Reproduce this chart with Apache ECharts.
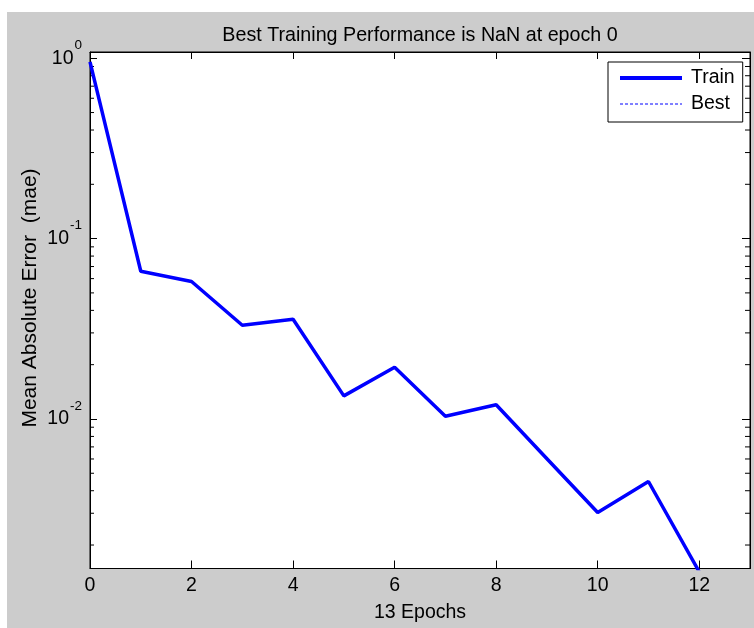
<!DOCTYPE html>
<html><head><meta charset="utf-8">
<script src="https://cdn.jsdelivr.net/npm/echarts@6/dist/echarts.min.js"></script>
<style>
html,body{margin:0;padding:0;background:#fff;}
#wrap{position:relative;width:754px;height:628px;}
#bg{position:absolute;left:7px;top:12px;width:747px;height:616px;background:#cccccc;}
#c{position:absolute;left:0;top:0;width:754px;height:628px;}
</style>
</head><body><div id="wrap"><div id="bg"></div><div id="c"></div></div>
<script>
// ---- data ----
const epochs = [0, 1, 2, 3, 4, 5, 6, 7, 8, 9, 10, 11, 12];
const trainMAE = [0.955, 0.0659, 0.0578, 0.0331, 0.0357, 0.01343, 0.01935, 0.01035, 0.0120, 0.00602, 0.00303, 0.00450, 0.00142];
const bestEpochs = [0];
const bestMAE = [NaN];
const xTickLabels = [0, 2, 4, 6, 8, 10, 12];
const yMajorExponents = [0, -1, -2];
const yMinorTicks = [0.002, 0.003, 0.004, 0.005, 0.006, 0.007, 0.008, 0.009,
                     0.02, 0.03, 0.04, 0.05, 0.06, 0.07, 0.08, 0.09,
                     0.2, 0.3, 0.4, 0.5, 0.6, 0.7, 0.8, 0.9];
const xMin = 0, xMax = 13, xInterval = 2;
const yMin = 0.001482, yMax = 1.083;
const titleText = 'Best Training Performance is NaN at epoch 0';
const xName = '13 Epochs';
const yName = 'Mean Absolute Error  (mae)';

const FONT = '"Liberation Sans", Arial, Helvetica, sans-serif';
const chart = echarts.init(document.getElementById('c'), null, {renderer: 'canvas'});

function yLabel(v) {
  const e = Math.log10(v);
  const r = Math.round(e);
  if (Math.abs(e - r) > 1e-6 || yMajorExponents.indexOf(r) < 0) return '';
  return '{b|10}{s|' + r + '}';
}

const option = {
  backgroundColor: 'transparent',
  animation: false,
  title: {
    text: titleText,
    left: 415, top: 21, textAlign: 'center',
    textStyle: {fontFamily: FONT, fontSize: 19.7, fontWeight: 'normal', color: '#000'}
  },
  legend: {
    data: [
      {name: 'Train', lineStyle: {width: 4, color: '#0000ff', type: 'solid'}},
      {name: 'Best', lineStyle: {width: 1, color: '#0000ff', type: [3, 2]}}
    ],
    orient: 'vertical',
    left: 608, top: 62,
    padding: [6, 8, 8, 10],
    itemWidth: 62, itemHeight: 12, itemGap: 6,
    itemStyle: {opacity: 0},
    backgroundColor: '#fff', borderColor: '#000', borderWidth: 1,
    textStyle: {fontFamily: FONT, fontSize: 19.5, color: '#000', padding: [0, 0, 0, 4]}
  },
  grid: {
    left: 90, top: 52, right: 4, bottom: 56.5,
    show: true, backgroundColor: '#fff', borderColor: '#000', borderWidth: 1
  },
  xAxis: [{
    type: 'value', min: xMin, max: xMax, interval: xInterval, position: 'bottom',
    name: xName, nameLocation: 'middle', nameGap: 34.5,
    nameTextStyle: {fontFamily: FONT, fontSize: 19.5, color: '#000'},
    axisLine: {show: true, onZero: false, lineStyle: {color: '#000', width: 1}},
    axisTick: {show: true, inside: true, length: 8, lineStyle: {color: '#000'}},
    axisLabel: {
      show: true, margin: 7, fontFamily: FONT, fontSize: 19.5, color: '#000',
      showMaxLabel: false,
      formatter: v => (xTickLabels.indexOf(v) >= 0 ? String(v) : '')
    },
    splitLine: {show: false}
  }, {
    type: 'value', min: xMin, max: xMax, interval: xInterval, position: 'top',
    axisLine: {show: true, onZero: false, lineStyle: {color: '#000', width: 1}},
    axisTick: {show: true, inside: true, length: 7, lineStyle: {color: '#000'}},
    axisLabel: {show: false}, splitLine: {show: false}
  }],
  yAxis: [{
    type: 'log', logBase: 10, min: yMin, max: yMax, position: 'left',
    axisLine: {show: true, onZero: false, lineStyle: {color: '#000', width: 1}},
    axisTick: {show: true, inside: true, length: 7, lineStyle: {color: '#000'}},
    axisLabel: {
      show: true, margin: 8, formatter: yLabel,
      rich: {
        b: {fontFamily: FONT, fontSize: 19.5, color: '#000'},
        s: {fontFamily: FONT, fontSize: 13.5, color: '#000', padding: [0, 0, 26, 1]}
      }
    },
    splitLine: {show: false}
  }, {
    type: 'log', logBase: 10, min: yMin, max: yMax, position: 'right',
    axisLine: {show: true, onZero: false, lineStyle: {color: '#000', width: 1}},
    axisTick: {show: true, inside: true, length: 8, lineStyle: {color: '#000'}},
    axisLabel: {show: false}, splitLine: {show: false}
  }],
  graphic: [{
    type: 'text', x: 30, y: 298, rotation: Math.PI / 2,
    style: {text: yName, fontFamily: FONT, fontSize: 21, fill: '#000', align: 'center', verticalAlign: 'middle'}
  }],
  series: [{
    name: 'Train', type: 'line', xAxisIndex: 0, yAxisIndex: 0,
    data: epochs.map((e, i) => [e, trainMAE[i]]),
    showSymbol: false, symbol: 'none', clip: true,
    lineStyle: {color: '#0000ff', width: 3.5},
    itemStyle: {color: '#0000ff'}
  }, {
    name: 'Best', type: 'line', xAxisIndex: 0, yAxisIndex: 0,
    data: bestEpochs.map((e, i) => [e, bestMAE[i]]),
    showSymbol: false, symbol: 'none',
    lineStyle: {color: '#0000ff', width: 1, type: [3, 2]},
    itemStyle: {color: '#0000ff'}
  }, {
    name: 'minorTicks', type: 'custom', xAxisIndex: 0, yAxisIndex: 0, silent: true, clip: false,
    data: yMinorTicks.map(v => [0, v]),
    renderItem: function (params, api) {
      const cs = params.coordSys;
      const y = api.coord([0, api.value(1)])[1];
      return {
        type: 'group', children: [
          {type: 'line', shape: {x1: cs.x, y1: y, x2: cs.x + 4, y2: y}, style: {stroke: '#000', lineWidth: 1}},
          {type: 'line', shape: {x1: cs.x + cs.width - 5, y1: y, x2: cs.x + cs.width, y2: y}, style: {stroke: '#000', lineWidth: 1}}
        ]
      };
    }
  }]
};
chart.setOption(option);
</script>
</body></html>
